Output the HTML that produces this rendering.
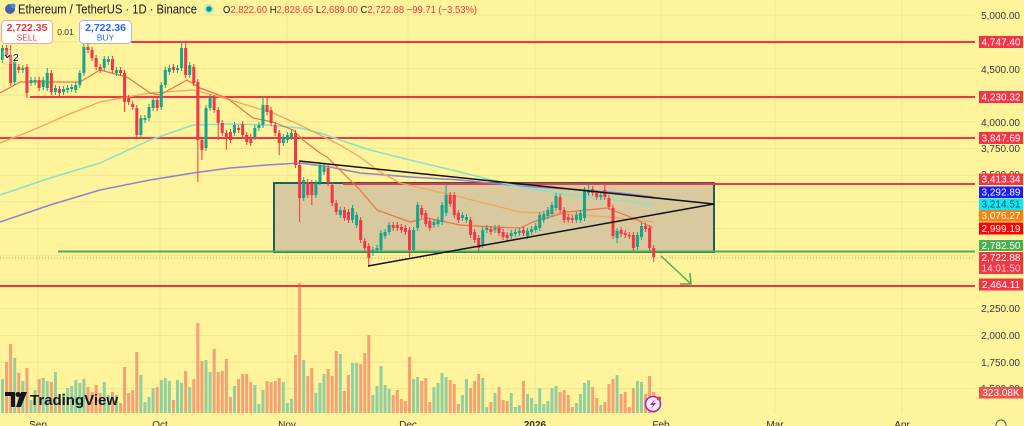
<!DOCTYPE html>
<html><head><meta charset="utf-8">
<style>
html,body{margin:0;padding:0;background:#fff39b;}
svg{display:block;font-family:"Liberation Sans",sans-serif;}
</style></head>
<body>
<svg id="s" width="1024" height="426" viewBox="0 0 1024 426" xmlns="http://www.w3.org/2000/svg">
<rect x="0" y="0" width="1024" height="426" fill="#fff39b"/>
<g stroke="#f1e592" stroke-width="1">
<line x1="0" y1="15" x2="975" y2="15"/><line x1="0" y1="41.7" x2="975" y2="41.7"/><line x1="0" y1="68.4" x2="975" y2="68.4"/><line x1="0" y1="95.1" x2="975" y2="95.1"/><line x1="0" y1="121.8" x2="975" y2="121.8"/><line x1="0" y1="148.5" x2="975" y2="148.5"/><line x1="0" y1="175.2" x2="975" y2="175.2"/><line x1="0" y1="201.9" x2="975" y2="201.9"/><line x1="0" y1="228.6" x2="975" y2="228.6"/><line x1="0" y1="255.3" x2="975" y2="255.3"/><line x1="0" y1="282" x2="975" y2="282"/><line x1="0" y1="308.7" x2="975" y2="308.7"/><line x1="0" y1="335.4" x2="975" y2="335.4"/><line x1="0" y1="362.1" x2="975" y2="362.1"/><line x1="0" y1="388.8" x2="975" y2="388.8"/>
<line x1="38" y1="0" x2="38" y2="414"/><line x1="160" y1="0" x2="160" y2="414"/><line x1="287" y1="0" x2="287" y2="414"/><line x1="408" y1="0" x2="408" y2="414"/><line x1="535" y1="0" x2="535" y2="414"/><line x1="661" y1="0" x2="661" y2="414"/><line x1="775" y1="0" x2="775" y2="414"/><line x1="902" y1="0" x2="902" y2="414"/>
</g>
<g id="vol"></g>
<rect x="274" y="183" width="440" height="69" fill="#d9c99e" stroke="#1e5f5b" stroke-width="2"/>
<g stroke-width="2" fill="none">
<line x1="131" y1="42" x2="975" y2="42" stroke="#f23645"/>
<line x1="30" y1="97" x2="975" y2="97" stroke="#f23645"/>
<line x1="0" y1="138" x2="975" y2="138" stroke="#f23645"/>
<line x1="343" y1="184" x2="975" y2="184" stroke="#f23645"/>
<line x1="58" y1="251.5" x2="975" y2="251.5" stroke="#4caf50"/>
<line x1="0" y1="286" x2="975" y2="286" stroke="#f23645"/>
</g>
<line x1="0" y1="258" x2="975" y2="258" stroke="#f5876a" stroke-width="1" stroke-dasharray="1,2"/>
<g fill="none" stroke-linejoin="round">
<polyline stroke="#8a84d2" stroke-width="1.5" points="0,222 50,205 100,190 150,180 193,173 230,168 267,165 300,163 330,167 360,173 410,177 460,180 520,186 583,190 620,193 653,197"/>
<polyline stroke="#86e2cb" stroke-width="1.5" points="0,195 50,178 100,163 150,140 193,125 230,124 267,125 300,128 320,133 340,140 370,150 410,160 460,172 520,187 583,197 620,200 653,205"/>
<polyline stroke="#f7a35c" stroke-width="1.3" points="0,143 33,130 67,115 100,102 150,93 193,90 220,97 240,103 273,113 300,125 320,135 340,145 360,157 380,172 400,183 430,190 460,197 520,212 550,213 583,215 620,218 653,222"/>
<polyline stroke="#f0704a" stroke-width="1.2" points="0,93 20,82 50,82 80,82 100,70 127,77 150,93 160,95 187,80 200,88 227,98 253,118 273,122 293,130 303,140 320,153 327,157 360,190 377,210 410,222 427,218 460,225 493,227 520,228 533,222 567,212 607,208 633,218 653,228"/>
</g>
<g id="cnd"></g>
<g stroke="#111" stroke-width="1.5">
<line x1="299" y1="161" x2="714" y2="204"/>
<line x1="368" y1="266" x2="714" y2="204"/>
</g>
<g stroke="#4caf50" stroke-width="1.5" fill="none">
<line x1="661" y1="256" x2="691" y2="284"/>
<polyline points="680,284 691,284 690,273"/>
</g>
<!-- right axis -->
<g font-size="10" fill="#3a3a3a" text-anchor="end">
<text x="1020" y="19">5,000.00</text>
<text x="1020" y="73">4,500.00</text>
<text x="1020" y="126">4,000.00</text>
<text x="1020" y="152">3,750.00</text>
<text x="1020" y="178">3,500.00</text>
<text x="1020" y="286">2,500.00</text>
<text x="1020" y="312">2,250.00</text>
<text x="1020" y="339">2,000.00</text>
<text x="1020" y="366">1,750.00</text>
<text x="1020" y="392">1,500.00</text>
</g>
<g font-size="10" text-anchor="middle" fill="#fff">
<rect x="979" y="36" width="44" height="12" fill="#f23645"/><text x="1001" y="45.5">4,747.40</text>
<rect x="979" y="91" width="44" height="12" fill="#f23645"/><text x="1001" y="100.5">4,230.32</text>
<rect x="979" y="132" width="44" height="12" fill="#f23645"/><text x="1001" y="141.5">3,847.69</text>
<rect x="979" y="173.5" width="44" height="11.5" fill="#f23645"/><text x="1001" y="182.5">3,413.34</text>
<rect x="979" y="186.5" width="44" height="11.5" fill="#1a1aff"/><text x="1001" y="195.5">3,292.89</text>
<rect x="979" y="198.5" width="44" height="11.5" fill="#10e6f6"/><text x="1001" y="207.5" fill="#0d4f66">3,214.51</text>
<rect x="979" y="210" width="44" height="11.5" fill="#ff7f0e"/><text x="1001" y="219">3,076.27</text>
<rect x="979" y="222.5" width="44" height="12" fill="#ff0000"/><text x="1001" y="232">2,999.19</text>
<rect x="979" y="240" width="44" height="11" fill="#4caf50"/><text x="1001" y="249">2,782.50</text>
<rect x="979" y="252" width="44" height="22" fill="#f23645"/><text x="1001" y="261">2,722.88</text><text x="1001" y="271.5" fill="#ffd3d6">14:01:50</text>
<rect x="979" y="278.5" width="44" height="12" fill="#f23645"/><text x="1001" y="288">2,464.11</text>
<rect x="979" y="387" width="44" height="11.5" fill="#ef5350"/><text x="1001" y="396">323.08K</text>
</g>
<circle cx="1001" cy="425" r="5" fill="none" stroke="#555" stroke-width="1"/>
<!-- time axis -->
<g font-size="10" fill="#333" text-anchor="middle">
<text x="38" y="428">Sep</text>
<text x="160" y="428">Oct</text>
<text x="287" y="428">Nov</text>
<text x="408" y="428">Dec</text>
<text x="535" y="428" font-weight="bold">2026</text>
<text x="661" y="428">Feb</text>
<text x="775" y="428">Mar</text>
<text x="902" y="428">Apr</text>
</g>
<!-- header -->
<circle cx="10" cy="9" r="5" fill="#4a5fb0"/><circle cx="13" cy="6" r="2.5" fill="#2b9bd6"/>
<text x="18" y="13.5" font-size="12.5" fill="#131722" textLength="179" lengthAdjust="spacingAndGlyphs">Ethereum / TetherUS · 1D · Binance</text>
<circle cx="209" cy="9" r="5" fill="#bfe6c4"/><circle cx="209" cy="9" r="2.8" fill="#089981"/>
<text x="223" y="13" font-size="10.5" textLength="254" lengthAdjust="spacingAndGlyphs"><tspan fill="#131722">O</tspan><tspan fill="#f23645">2,822.60 </tspan><tspan fill="#131722">H</tspan><tspan fill="#f23645">2,828.65 </tspan><tspan fill="#131722">L</tspan><tspan fill="#f23645">2,689.00 </tspan><tspan fill="#131722">C</tspan><tspan fill="#f23645">2,722.88 −99.71 (−3.53%)</tspan></text>
<rect x="1.5" y="20.5" width="51" height="23" rx="4" fill="#fff" stroke="#f5a3ab"/>
<text x="27" y="31" font-size="10.5" fill="#f23645" text-anchor="middle" font-weight="bold">2,722.35</text>
<text x="27" y="40.5" font-size="8.5" fill="#f23645" text-anchor="middle">SELL</text>
<text x="65.5" y="35" font-size="8.5" fill="#333" text-anchor="middle">0.01</text>
<rect x="79.5" y="20.5" width="52" height="23" rx="4" fill="#fff" stroke="#a6b8ef"/>
<text x="105.5" y="31" font-size="10.5" fill="#2962ff" text-anchor="middle" font-weight="bold">2,722.36</text>
<text x="105.5" y="40.5" font-size="8.5" fill="#2962ff" text-anchor="middle">BUY</text>
<rect x="2" y="50" width="20" height="14" rx="2" fill="rgba(255,255,255,0.25)" stroke="rgba(0,0,0,0.08)"/>
<polyline points="5,55 7.5,57.5 10,55" fill="none" stroke="#131722" stroke-width="1"/>
<text x="13" y="61" font-size="10" fill="#131722">2</text>
<!-- watermark -->
<g fill="#131722">
<path d="M5,392 H15 V407 H11 V396 H5 Z"/>
<circle cx="18" cy="394.5" r="2.5"/>
<path d="M21,392 H27 L21,407 H16 Z"/>
</g>
<text x="30" y="405" font-size="15" font-weight="bold" fill="#131722" textLength="88" lengthAdjust="spacingAndGlyphs">TradingView</text>
<!-- lightning -->
<circle cx="653" cy="404" r="7.5" fill="#f6e8fb" stroke="#9c27b0" stroke-width="1.5"/>
<path d="M655,399 L650,405 H653 L651,409 L656,403 H653 Z" fill="#9c27b0"/>
<circle cx="659" cy="398.5" r="2" fill="#f23645"/>
</svg>
<script>
(function(){
var C=[[60,48],[48,55],[55,83,45],[82,62],[67,70],[70,68],[67,93,0,98],[83,80],[82,80],[80,88],[87,80],[88,73,68],[73,92],[92,88],[89,93],[92,89],[90,88],[89,87],[90,85],[85,73],[73,47],[47,50],[50,58],[58,67],[67,70],[68,59],[62,59],[59,70],[73,70],[70,73],[73,102,0,112],[98,102],[104,107],[108,135,0,138],[135,118],[120,118],[118,107],[108,100],[100,108],[107,85],[85,70],[72,68],[67,70],[70,68],[68,48,42],[48,75,42],[75,65],[67,83],[82,140,0,182],[140,150,0,160],[148,108],[108,97],[98,110],[110,123,0,140],[123,133],[133,138,0,150],[132,140],[133,125],[128,130],[124,135],[135,142],[137,143],[137,128],[128,125],[125,105,96],[105,112,96],[110,123],[125,133],[133,143,0,155],[143,137],[140,135],[137,133],[133,165],[165,198,0,222],[198,180],[182,195],[183,195,0,205],[195,183],[182,165],[172,167],[168,183],[185,203],[203,212],[215,210],[210,218],[212,220],[220,208],[225,215],[220,240],[241,248],[246,258,0,267],[253,250],[250,248],[250,233],[236,232],[232,225],[225,228],[225,228],[227,230],[228,232],[230,250,0,257],[250,230],[228,205],[208,215],[213,224],[221,228],[225,222],[224,220],[222,205],[213,195,185],[195,204],[195,215],[213,220],[218,215],[220,217],[220,235],[232,240],[238,248],[245,230],[230,228],[229,232],[230,228],[228,233],[232,237],[235,238],[236,233],[234,232],[233,231],[230,233],[236,231],[232,229],[230,226],[228,215],[220,214],[216,210],[214,205],[208,196],[197,210],[210,220],[217,220],[218,220],[220,215],[220,213],[218,190],[193,190,185],[189,193],[193,197],[197,195],[190,197,185],[198,207],[208,236],[238,231,0,243],[230,234],[233,235],[235,236],[235,248],[247,235],[237,226],[226,229],[228,248],[248,257,0,262]];
var V=[379,362,344,358,373,381,368,400,390,379,378,381,382,372,400,393,388,386,380,383,379,387,392,385,393,382,395,392,395,403,367,393,390,352,375,402,397,388,387,380,378,381,400,380,383,371,387,379,323,361,360,372,349,372,371,359,397,386,379,374,374,382,385,404,390,381,382,381,378,382,403,399,355,283,360,376,368,393,383,374,369,376,351,354,391,375,363,363,364,353,335,395,386,366,385,389,395,390,399,401,357,379,377,381,378,402,387,383,373,377,380,384,404,395,379,388,381,374,378,407,402,393,387,400,401,393,407,405,381,394,398,404,388,404,401,388,386,392,390,395,407,403,394,383,380,387,398,405,402,384,379,375,394,392,407,388,381,382,394,376,392];
var NS="http://www.w3.org/2000/svg";
var cg=document.getElementById("cnd"),vg=document.getElementById("vol");
function el(g,t,a){var e=document.createElementNS(NS,t);for(var k in a)e.setAttribute(k,String(a[k]));g.appendChild(e);}
for(var i=0;i<C.length;i++){
 var d=C[i],x=2.5+4.07*i,o=d[0],c=d[1],up=c<o,yt=Math.min(o,c),yb=Math.max(o,c);
 var hh=d[2]||yt-3,ll=d[3]||yb+3,col=up?"#14a58a":"#f23645";
 el(cg,"line",{x1:x,y1:hh,x2:x,y2:ll,stroke:col,"stroke-width":1});
 el(cg,"rect",{x:x-1.5,y:yt,width:3,height:Math.max(1.2,yb-yt),fill:col});
 if(i<V.length){var vt=V[i];el(vg,"rect",{x:x-1.5,y:vt,width:3,height:413-vt,fill:up?"#91d09e":"#f5a173"});}
}
})();
</script>
</body></html>
